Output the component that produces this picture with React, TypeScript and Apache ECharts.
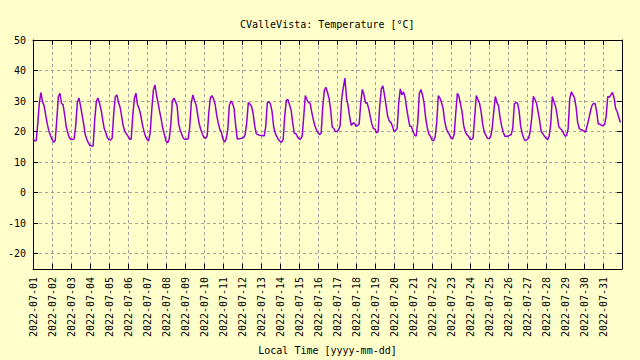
import React, { useEffect, useRef } from 'react';
import * as echarts from 'echarts';

const dayLabels = [
  '2022-07-01', '2022-07-02', '2022-07-03', '2022-07-04', '2022-07-05', '2022-07-06', '2022-07-07',
  '2022-07-08', '2022-07-09', '2022-07-10', '2022-07-11', '2022-07-12', '2022-07-13', '2022-07-14',
  '2022-07-15', '2022-07-16', '2022-07-17', '2022-07-18', '2022-07-19', '2022-07-20', '2022-07-21',
  '2022-07-22', '2022-07-23', '2022-07-24', '2022-07-25', '2022-07-26', '2022-07-27', '2022-07-28',
  '2022-07-29', '2022-07-30', '2022-07-31',
];

const stepHours = 2;

// temperature readings every 2 hours, one row per day
const dailyTemps: number[][] = [
  [17.6, 17.0, 17.0, 22.5, 29.3, 32.8, 29.8, 28.5, 25.5, 22.5, 20.3, 18.8],
  [17.4, 16.5, 17.0, 23.5, 31.4, 32.5, 29.2, 28.8, 25.5, 21.5, 19.5, 18.0],
  [17.4, 17.4, 17.6, 22.0, 29.5, 31.0, 28.5, 25.5, 22.5, 19.0, 17.4, 16.3],
  [15.4, 15.3, 15.3, 24.0, 29.8, 31.0, 29.3, 27.2, 24.0, 21.0, 19.5, 18.0],
  [17.3, 17.2, 17.8, 26.0, 31.5, 32.0, 29.5, 28.0, 25.0, 21.8, 20.1, 19.2],
  [18.5, 17.5, 17.5, 25.0, 30.8, 32.6, 28.8, 27.6, 25.5, 22.5, 20.3, 18.5],
  [17.4, 16.9, 19.5, 27.0, 33.5, 35.3, 32.0, 29.3, 26.5, 24.0, 21.0, 19.0],
  [16.9, 16.3, 17.5, 22.0, 30.0, 31.0, 29.8, 28.5, 22.5, 20.5, 19.0, 17.8],
  [17.4, 17.6, 17.6, 21.5, 29.5, 32.0, 30.0, 28.8, 25.5, 22.5, 20.6, 19.2],
  [18.0, 17.8, 18.5, 26.0, 31.0, 31.8, 30.8, 29.0, 25.5, 22.8, 20.7, 19.7],
  [17.5, 16.5, 17.5, 20.5, 28.5, 30.0, 29.3, 27.6, 22.0, 17.6, 17.6, 17.7],
  [17.8, 18.0, 19.0, 23.0, 29.5, 29.0, 28.3, 26.0, 22.0, 19.3, 19.0, 18.8],
  [18.7, 18.7, 18.5, 21.7, 29.5, 29.8, 29.0, 26.5, 21.5, 19.5, 18.3, 17.4],
  [16.8, 16.5, 17.4, 25.0, 30.3, 30.5, 28.8, 27.1, 23.0, 19.5, 19.3, 18.3],
  [17.6, 17.5, 18.5, 25.0, 31.8, 30.5, 29.5, 29.3, 26.5, 24.0, 22.0, 20.6],
  [19.6, 19.0, 19.5, 28.0, 33.5, 34.5, 32.8, 30.9, 27.0, 21.5, 21.0, 20.0],
  [20.1, 20.5, 22.0, 31.0, 34.5, 37.5, 31.0, 28.5, 24.8, 22.0, 22.7, 22.8],
  [21.7, 22.0, 22.5, 29.3, 33.8, 32.2, 29.3, 29.5, 27.5, 25.0, 22.5, 21.0],
  [20.8, 19.5, 20.0, 28.5, 34.0, 35.0, 32.0, 28.5, 25.0, 23.5, 23.0, 21.8],
  [20.1, 20.3, 21.0, 29.5, 34.0, 32.0, 33.0, 31.3, 27.5, 24.5, 21.7, 21.7],
  [20.0, 18.8, 18.5, 23.0, 32.5, 33.8, 32.0, 29.3, 24.5, 21.3, 19.2, 18.5],
  [17.2, 17.0, 18.3, 23.0, 31.8, 31.0, 29.5, 27.6, 23.5, 21.0, 19.8, 19.0],
  [17.8, 17.6, 19.0, 26.0, 32.5, 31.5, 29.0, 26.5, 22.0, 20.0, 19.0, 18.5],
  [17.5, 17.4, 18.0, 25.0, 31.8, 30.5, 29.3, 26.5, 22.5, 19.8, 18.8, 17.8],
  [17.6, 18.2, 21.0, 26.5, 31.5, 29.5, 28.5, 24.5, 21.8, 19.8, 18.5, 18.5],
  [18.5, 18.8, 19.0, 21.0, 29.0, 29.5, 29.3, 26.8, 21.8, 19.3, 17.7, 17.0],
  [17.4, 17.8, 20.0, 24.5, 31.5, 30.5, 29.3, 26.5, 23.5, 20.0, 19.3, 18.5],
  [17.9, 17.3, 18.5, 22.5, 31.5, 29.8, 28.3, 25.5, 21.8, 21.0, 20.5, 19.5],
  [18.5, 18.7, 21.0, 30.8, 33.0, 32.0, 31.0, 28.0, 23.0, 21.0, 20.6, 20.5],
  [20.1, 19.8, 22.0, 24.0, 26.5, 28.5, 29.2, 29.2, 26.5, 22.5, 22.5, 22.0],
  [22.0, 22.3, 25.0, 31.5, 31.2, 32.0, 32.8, 31.0, 27.5, 26.5, 24.5, 23.0],
];

const yMin = -25;
const yMax = 50;

export default function App() {
  const ref = useRef<HTMLDivElement>(null);
  useEffect(() => {
    const chart = echarts.init(ref.current!, null, { renderer: 'svg' });
    const flat = dailyTemps.flat();
    const data = flat.map((t, i) => [i * stepHours, t]);
    const font = "'DejaVu Sans Mono', monospace";
    const totalHours = dayLabels.length * 24;
    const split = { show: true, lineStyle: { color: '#a0a0a0', type: [3, 3], width: 1 } };
    const tick = { show: true, inside: true, length: 5, lineStyle: { color: '#000' } };
    const line = { show: true, onZero: false, lineStyle: { color: '#000', width: 1 } };
    chart.setOption({
      animation: false,
      backgroundColor: '#ffffcc',
      title: {
        text: 'CValleVista: Temperature [°C]',
        left: 240,
        top: 19,
        padding: 0,
        textStyle: { fontFamily: font, fontSize: 10, fontWeight: 'normal', color: '#000' },
      },
      grid: { left: 33, right: 18, top: 40, bottom: 89 },
      xAxis: [
        {
          type: 'value',
          min: 0,
          max: totalHours,
          interval: 24,
          position: 'bottom',
          name: 'Local Time [yyyy-mm-dd]',
          nameLocation: 'middle',
          nameGap: 74,
          nameTextStyle: { fontFamily: font, fontSize: 10, color: '#000' },
          axisLine: line,
          axisTick: tick,
          splitLine: split,
          axisLabel: {
            rotate: 90,
            margin: 8,
            fontFamily: font,
            fontSize: 10,
            color: '#000',
            showMaxLabel: false,
            formatter: (v: number) => dayLabels[Math.round(v / 24)] ?? '',
          },
        },
        {
          type: 'value',
          min: 0,
          max: totalHours,
          interval: 24,
          position: 'top',
          axisLine: line,
          axisTick: tick,
          splitLine: { show: false },
          axisLabel: { show: false },
        },
      ],
      yAxis: [
        {
          type: 'value',
          min: yMin,
          max: yMax,
          splitNumber: 7,
          position: 'left',
          axisLine: line,
          axisTick: tick,
          splitLine: split,
          axisLabel: {
            margin: 7,
            fontFamily: font,
            fontSize: 10,
            color: '#000',
            showMinLabel: false,
          },
        },
        {
          type: 'value',
          min: yMin,
          max: yMax,
          splitNumber: 7,
          position: 'right',
          axisLine: line,
          axisTick: tick,
          splitLine: { show: false },
          axisLabel: { show: false },
        },
      ],
      series: [
        {
          type: 'line',
          data,
          xAxisIndex: 0,
          yAxisIndex: 0,
          showSymbol: false,
          symbol: 'none',
          lineStyle: { color: '#9400d3', width: 1.5 },
          z: 3,
        },
      ],
    });
    return () => chart.dispose();
  }, []);
  return <div ref={ref} style={{ position: 'fixed', left: 0, top: 0, width: 640, height: 360 }} />;
}
